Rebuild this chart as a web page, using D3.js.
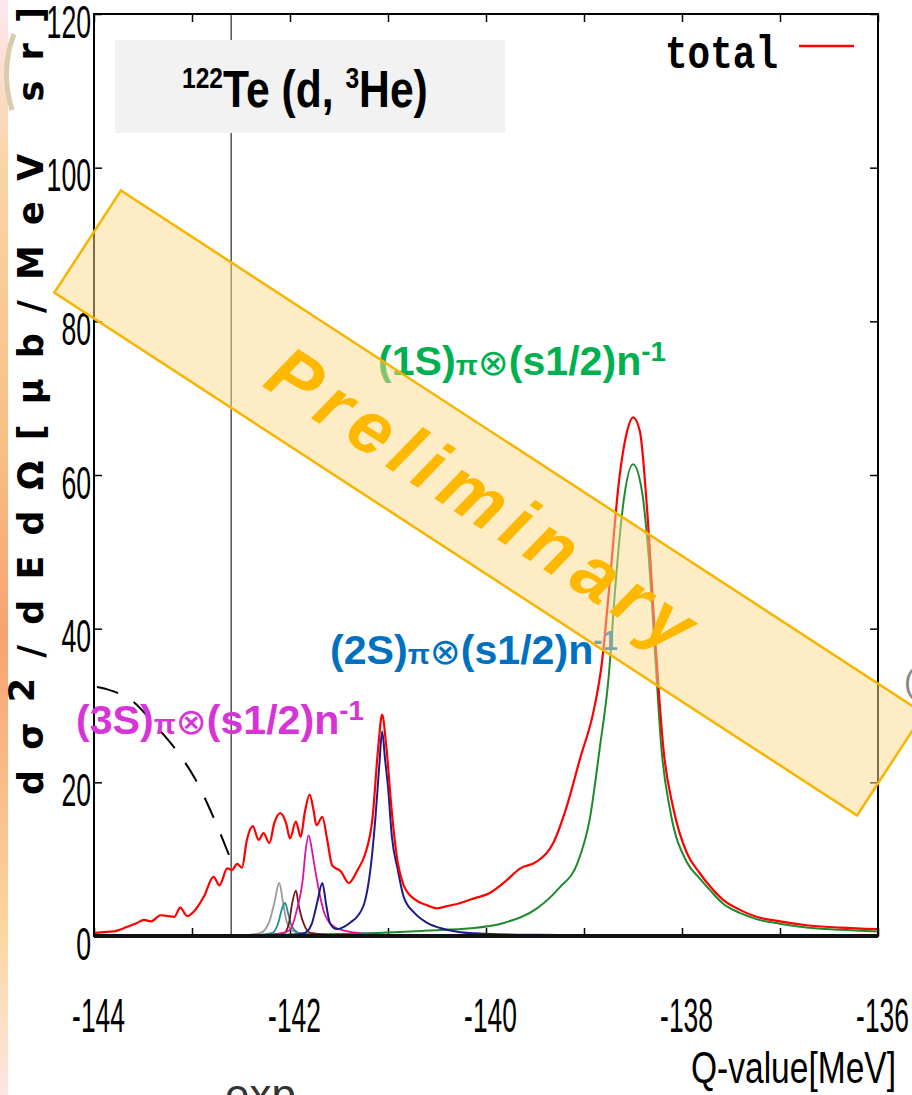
<!DOCTYPE html>
<html>
<head>
<meta charset="utf-8">
<script src="https://cdn.jsdelivr.net/npm/d3@7"></script>
<style>
  body { margin: 0; background: #fff; }
</style>
</head>
<body>
<div id="chart"></div>
<script>
// Q-value [MeV], cross section [ub/MeV sr]
var totalPts = [[-144.0,0.4],[-143.9,0.5],[-143.8,0.6],[-143.66,1.2],[-143.56,1.7],[-143.49,2.1],[-143.42,1.9],
  [-143.32,2.7],[-143.25,2.6],[-143.18,2.5],[-143.12,3.7],[-143.05,2.6],[-142.98,3.2],[-142.88,5.1],[-142.78,7.7],
  [-142.72,6.6],[-142.64,8.8],[-142.59,8.6],[-142.54,9.4],[-142.49,8.9],[-142.44,12.5],[-142.38,14.3],[-142.32,12.5],
  [-142.27,13.4],[-142.21,12.1],[-142.16,14.7],[-142.10,16.0],[-142.04,14.7],[-142.0,12.7],[-141.94,14.9],[-141.89,12.9],
  [-141.85,16.0],[-141.80,18.4],[-141.76,16.4],[-141.73,14.4],[-141.67,15.5],[-141.62,12.5],[-141.57,9.2],[-141.48,8.4],
  [-141.40,6.9],[-141.31,8.6],[-141.23,10.8],[-141.16,15.1],[-141.10,24.5],[-141.06,28.8],[-141.02,25.0],[-140.96,16.0],
  [-140.90,9.5],[-140.84,6.6],[-140.73,4.8],[-140.60,4.0],[-140.50,3.6],[-140.39,3.9],[-140.26,4.3],[-140.12,4.9],
  [-139.96,5.6],[-139.82,6.9],[-139.65,8.8],[-139.48,9.7],[-139.31,12.2],[-139.18,16.7],[-139.04,23.1],[-138.90,29.4],
  [-138.82,35.3],[-138.73,47.1],[-138.65,58.4],[-138.56,65.7],[-138.50,67.5],[-138.43,65.7],[-138.36,56.2],[-138.27,38.0],
  [-138.19,24.4],[-138.09,16.7],[-137.95,10.8],[-137.82,8.2],[-137.71,6.4],[-137.58,4.7],[-137.41,3.4],[-137.24,2.5],
  [-137.0,1.9],[-136.73,1.4],[-136.39,1.1],[-136.0,0.9]]

var s1Pts = [[-142.6,0.1],[-142.0,0.15],[-141.5,0.25],[-141.0,0.45],[-140.6,0.7],[-140.16,1.0],[-139.82,1.7],
  [-139.48,3.6],[-139.25,6.3],[-139.07,9.4],[-138.94,15.3],[-138.84,24.4],[-138.75,33.5],[-138.67,47.1],[-138.60,56.2],
  [-138.50,61.4],[-138.41,58.0],[-138.34,49.4],[-138.27,35.8],[-138.21,24.4],[-138.12,16.3],[-137.95,9.6],[-137.82,7.5],
  [-137.71,5.9],[-137.58,4.2],[-137.41,3.0],[-137.24,2.2],[-137.0,1.6],[-136.73,1.1],[-136.39,0.8],[-136.0,0.6]]

var s2Pts = [[-142.4,0.05],[-142.0,0.15],[-141.85,0.4],[-141.78,1.5],[-141.72,4.5],[-141.67,6.9],[-141.63,4.0],
  [-141.59,1.6],[-141.52,0.9],[-141.45,1.2],[-141.38,1.8],[-141.31,2.6],[-141.23,4.8],[-141.18,8.6],[-141.13,15.1],
  [-141.09,22.0],[-141.06,26.6],[-141.03,23.0],[-141.0,19.4],[-140.96,12.9],[-140.90,8.6],[-140.84,5.1],[-140.73,3.0],
  [-140.60,1.7],[-140.43,0.9],[-140.26,0.5],[-140.0,0.3],[-139.5,0.15],[-139.0,0.1]]

var s3Pts = [[-142.3,0.1],[-142.1,0.3],[-142.0,0.8],[-141.93,3.4],[-141.87,7.3],[-141.84,11.2],[-141.81,13.1],
  [-141.78,11.5],[-141.76,9.9],[-141.70,5.6],[-141.65,3.0],[-141.55,1.2],[-141.41,0.6],[-141.28,0.35],[-141.0,0.15],[-140.6,0.05]]

var grayPts = [[-142.5,0.05],[-142.3,0.4],[-142.21,1.9],[-142.16,4.3],[-142.11,6.9],[-142.07,4.3],[-142.03,1.7],
  [-141.96,0.6],[-141.86,0.3],[-141.6,0.05]]
var tealPts = [[-142.4,0.05],[-142.18,0.4],[-142.12,1.7],[-142.08,3.6],[-142.05,4.3],[-142.02,3.0],[-141.98,1.2],
  [-141.89,0.3],[-141.6,0.05]]
var brownPts = [[-142.3,0.05],[-142.06,0.4],[-142.01,1.7],[-141.98,4.1],[-141.94,5.9],[-141.91,3.9],[-141.86,1.6],
  [-141.79,0.4],[-141.5,0.05]]
var dashPts = [[-143.97,32.4],[-143.84,32.0],[-143.6,30.5],[-143.38,27.5],[-143.15,24.0],[-142.97,20.5],[-142.80,16.0],[-142.59,9.5]]

var xTicks = [-144,-143,-142,-141,-140,-139,-138,-137,-136]
var xLabels = [-144,-142,-140,-138,-136]
var yTicks = [0,20,40,60,80,100,120]
var cutQ = -142.6

var svg = d3.select("#chart").append("svg")
  .attr("width", 912)
  .attr("height", 1095)
  .style("display", "block")

var frame = {left: 94, right: 878, top: 14, bottom: 936}

var x = d3.scaleLinear().domain([-144, -136]).range([frame.left, frame.right])
var y = d3.scaleLinear().domain([0, 120]).range([frame.bottom, frame.top])

// slide background bits
var defs = svg.append("defs")
var grad = defs.append("linearGradient").attr("id", "strip").attr("x1", 0).attr("x2", 0).attr("y1", 0).attr("y2", 1)
;[[0,"#fde8f0"],[0.08,"#fcdcc8"],[0.15,"#fbd4a6"],[0.4,"#f9bf86"],[0.58,"#f8a272"],[0.85,"#fcd6a0"],[1,"#fde6e2"]]
  .forEach(s => grad.append("stop").attr("offset", s[0]).attr("stop-color", s[1]))
svg.append("rect").attr("x", 0).attr("y", 0).attr("width", 8).attr("height", 1095).attr("fill", "url(#strip)")
svg.append("path").attr("d", "M14,34 Q0,70 12,110").attr("fill", "none")
  .attr("stroke", "#d9ccae").attr("stroke-width", 5)
svg.append("text").attr("x", 904).attr("y", 692).text("(")
  .style("font", "32px 'Liberation Sans'").attr("fill", "#888")
svg.append("text").attr("x", 225).attr("y", 1110).text("exp")
  .style("font", "44px 'Liberation Sans'").attr("fill", "#333")

defs.append("clipPath").attr("id", "plotclip").append("rect")
  .attr("x", frame.left).attr("y", frame.top - 2)
  .attr("width", frame.right - frame.left).attr("height", frame.bottom - frame.top + 2)

// axes with inward ticks
var tickFont = "'Liberation Sans', Arial, sans-serif"
var bottomAxis = svg.append("g").attr("transform", `translate(0,${frame.bottom})`)
  .call(d3.axisBottom(x).tickValues(xTicks).tickSize(-8).tickPadding(62)
    .tickFormat(d => xLabels.includes(d) ? d : ""))
bottomAxis.selectAll("text").attr("transform", "translate(4,0) scale(0.55,1)")
  .style("font-family", tickFont).style("font-size", "48px").attr("fill", "#000")

svg.append("g").attr("transform", `translate(0,${frame.top})`)
  .call(d3.axisTop(x).tickValues(xTicks).tickSize(-8).tickFormat(""))

var leftAxis = svg.append("g").attr("transform", `translate(${frame.left},0)`)
  .call(d3.axisLeft(y).tickValues(yTicks).tickSize(-8).tickPadding(5))
leftAxis.selectAll("text").attr("dy", "0.5em").attr("transform", "scale(0.58,1)")
  .style("font-family", tickFont).style("font-size", "46px").attr("fill", "#000")

svg.append("g").attr("transform", `translate(${frame.right},0)`)
  .call(d3.axisRight(y).tickValues(yTicks).tickSize(-8).tickFormat(""))

svg.selectAll(".domain").remove()
svg.selectAll(".tick line").attr("stroke", "#000").attr("stroke-width", 1.5)

// vertical marker line
svg.append("line").attr("x1", x(cutQ)).attr("x2", x(cutQ))
  .attr("y1", frame.top).attr("y2", frame.bottom)
  .attr("stroke", "#555").attr("stroke-width", 1.5)

// title box
svg.append("rect").attr("x", 115).attr("y", 40).attr("width", 390).attr("height", 93).attr("fill", "#f2f2f2")
var title = svg.append("text").attr("transform", "translate(182,107) scale(0.82,1)")
  .style("font-family", tickFont).style("font-weight", "bold").style("font-size", "52px").attr("fill", "#000")
title.append("tspan").attr("dy", -19).style("font-size", "30px").text("122")
title.append("tspan").attr("dy", 19).text("Te (d, ")
title.append("tspan").attr("dy", -19).style("font-size", "30px").text("3")
title.append("tspan").attr("dy", 19).text("He)")

// curves
var line = d3.line().x(d => x(d[0])).y(d => y(d[1])).curve(d3.curveMonotoneX)
var plot = svg.append("g").attr("clip-path", "url(#plotclip)")
var series = [
  {pts: s1Pts, color: "#1f8a2c", w: 2},
  {pts: grayPts, color: "#9a9a9a", w: 1.8},
  {pts: tealPts, color: "#1a9090", w: 1.8},
  {pts: brownPts, color: "#701818", w: 1.8},
  {pts: s3Pts, color: "#e0119c", w: 1.8},
  {pts: s2Pts, color: "#1d1a8a", w: 2},
  {pts: totalPts, color: "#ff0000", w: 2.2}
]
series.forEach(s => {
  plot.append("path").datum(s.pts).attr("d", line)
    .attr("fill", "none").attr("stroke", s.color).attr("stroke-width", s.w)
})
plot.append("path").datum(dashPts).attr("d", line).attr("fill", "none")
  .attr("stroke", "#000").attr("stroke-width", 2).attr("stroke-dasharray", "22,18")

// frame
svg.append("rect").attr("x", frame.left).attr("y", frame.top)
  .attr("width", frame.right - frame.left).attr("height", frame.bottom - frame.top)
  .attr("fill", "none").attr("stroke", "#000").attr("stroke-width", 2)
svg.append("line").attr("x1", frame.left).attr("x2", frame.right)
  .attr("y1", frame.bottom).attr("y2", frame.bottom).attr("stroke", "#111").attr("stroke-width", 4)

// legend
svg.append("text").attr("x", 665).attr("y", 68).attr("textLength", 113).attr("lengthAdjust", "spacingAndGlyphs")
  .style("font-family", "'Liberation Mono', 'DejaVu Sans Mono', monospace").style("font-size", "46px")
  .style("font-weight", "bold").attr("fill", "#000").text("total")
svg.append("line").attr("x1", 799).attr("x2", 854).attr("y1", 46).attr("y2", 46)
  .attr("stroke", "#ff0000").attr("stroke-width", 2.5)

// axis titles
var yTitle = svg.append("text").attr("transform", "translate(43,795) rotate(-90)")
  .attr("textLength", 788).attr("lengthAdjust", "spacing")
  .style("font-family", "'DejaVu Sans', sans-serif").style("font-weight", "bold").style("font-size", "35px")
  .attr("fill", "#000")
yTitle.append("tspan").text("dσ")
yTitle.append("tspan").attr("dy", -9).text("2")
yTitle.append("tspan").attr("dy", 9).text("/dEdΩ[μb/MeV sr]")

svg.append("text").attr("x", 691).attr("y", 1083).attr("textLength", 205).attr("lengthAdjust", "spacingAndGlyphs")
  .style("font-family", tickFont).style("font-size", "44px").attr("fill", "#000").text("Q-value[MeV]")

// state labels
function stateLabel(px, py, color, n) {
  var t = svg.append("text").attr("x", px).attr("y", py)
    .attr("textLength", 288).attr("lengthAdjust", "spacingAndGlyphs")
    .style("font-family", tickFont).style("font-weight", "bold").style("font-size", "40px").attr("fill", color)
  t.append("tspan").text("(" + n + "S)")
  t.append("tspan").style("font-size", "28px").text("π")
  t.append("tspan").style("font-family", "'DejaVu Sans', sans-serif").style("font-weight", "normal")
    .style("font-size", "36px").text("⊗")
  t.append("tspan").text("(s1/2)n")
  t.append("tspan").attr("dy", -14).style("font-size", "27px").text("-1")
}
stateLabel(378, 375, "#00b050", 1)
stateLabel(330, 664, "#0070c0", 2)
stateLabel(76, 734, "#d634d6", 3)

// preliminary band
var cx = 489, cy = 503, ang = Math.atan2(523, 803) * 180 / Math.PI
var band = svg.append("g").attr("transform", `translate(${cx},${cy}) rotate(${ang})`)
band.append("rect").attr("x", -479).attr("y", -61).attr("width", 958).attr("height", 122)
  .attr("fill", "#fbd989").attr("fill-opacity", 0.5)
  .attr("stroke", "#f7b500").attr("stroke-width", 2.5)
band.append("text").attr("x", -4).attr("y", 26).attr("text-anchor", "middle")
  .style("font-family", tickFont).style("font-weight", "bold").style("font-style", "italic")
  .style("font-size", "74px").style("letter-spacing", "9px").attr("fill", "#ffb800").text("Preliminary")
</script>
</body>
</html>
